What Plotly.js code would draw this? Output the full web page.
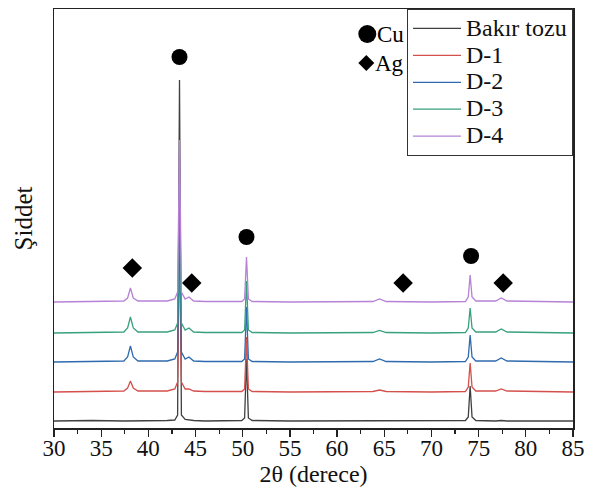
<!DOCTYPE html>
<html>
<head>
<meta charset="utf-8">
<script src="https://cdn.plot.ly/plotly-3.0.1.min.js"></script>
<style>html,body{margin:0;padding:0;background:#fff;}#chart{width:602px;height:493px;}</style>
</head>
<body>
<div id="chart"></div>
<script>
const twoTheta = [30, 34, 37.4, 37.8, 38.1, 38.4, 38.9, 42, 42.8, 43.1, 43.3, 43.5, 43.9, 44.3, 44.8, 46, 49.9, 50.2, 50.4, 50.6, 51.0, 55, 60, 63.8, 64.5, 65.2, 70, 73.6, 73.9, 74.1, 74.3, 74.7, 76.8, 77.4, 78.0, 82, 85];
const seriesNames = ["Bakır tozu", "D-1", "D-2", "D-3", "D-4"];
const seriesOffsets = [7, 36, 66, 95, 126];
const bakirTozu = [0, 0.5, 0, 0, 0.5, 0, 0, 0.5, 1, 6, 341, 6, 1.5, 1, 0.5, 0, 0.5, 3, 62, 3, 0.5, 0, 0, 0, 0.5, 0, 0, 0.5, 4, 35, 4, 0.5, 0, 0.5, 0, 0, 0];
const d1 = [0, 0.5, 1, 4, 11, 4, 1, 1, 3, 10, 150, 10, 3, 3, 1, 0.5, 0.5, 3, 55, 3, 0.5, 0, 0, 0.5, 2, 0.5, 0, 0.5, 5, 29, 5, 1, 1, 3, 1, 0.5, 0];
const d2 = [0, 0.5, 1, 5, 16, 5, 1, 1, 3, 10, 146, 10, 3, 5, 1, 0.5, 0.5, 3, 55, 3, 0.5, 0, 0, 0.5, 3, 0.5, 0, 0.5, 5, 27, 5, 1, 1, 4, 1, 0.5, 0];
const d3 = [0, 0.5, 1, 5, 16, 5, 1, 1, 3, 10, 150, 10, 3, 5, 1, 0.5, 0.5, 3, 52, 3, 0.5, 0, 0, 0.5, 2.5, 0.5, 0, 0.5, 5, 25, 5, 1, 1, 4, 1, 0.5, 0];
const d4 = [0, 0.5, 1, 4, 14, 4, 1, 1, 3, 10, 162, 10, 3, 5, 1, 0.5, 0.5, 3, 45, 3, 0.5, 0, 0, 0.5, 3, 0.5, 0, 0.5, 5, 27, 5, 1, 1, 4, 1, 0.5, 0];
const seriesColors = ["#404040", "#d4504c", "#2f6aae", "#37a07f", "#b582d6"];

const cuPeaksX = [43.3, 50.4, 74.2];
const cuMarkY = [371, 191, 172];
const agPeaksX = [38.3, 44.6, 67.0, 77.6];
const agMarkY = [160, 145, 145, 145];

const keyLabels = ["Cu", "Ag"];

const tickVals = [30, 35, 40, 45, 50, 55, 60, 65, 70, 75, 80, 85];

const allSeries = [bakirTozu, d1, d2, d3, d4];
const font = "Liberation Serif, Times New Roman, serif";

const traces = allSeries.map((vals, i) => ({
  x: twoTheta,
  y: vals.map(v => v + seriesOffsets[i]),
  type: "scatter",
  mode: "lines",
  name: '<span style="font-size:24px">' + seriesNames[i] + '</span>',
  line: {color: seriesColors[i], width: 1.3},
  hoverinfo: "skip"
}));

traces.push({
  x: cuPeaksX, y: cuMarkY, type: "scatter", mode: "markers",
  marker: {symbol: "circle", size: 16, color: "#000"}, showlegend: false, hoverinfo: "skip"
});
traces.push({
  x: agPeaksX, y: agMarkY, type: "scatter", mode: "markers",
  marker: {symbol: "diamond", size: 15, color: "#000"}, showlegend: false, hoverinfo: "skip"
});

const layout = {
  width: 602, height: 493,
  margin: {l: 54, r: 29, t: 9, b: 65},
  paper_bgcolor: "#fff", plot_bgcolor: "#fff",
  font: {family: font, color: "#111", size: 23},
  showlegend: true,
  legend: {
    x: 1, y: 1, xanchor: "right", yanchor: "top",
    bgcolor: "#fff", bordercolor: "#333", borderwidth: 1,
    font: {family: font, size: 18.4, color: "#111"},
    itemwidth: 48,
    tracegroupgap: 0
  },
  xaxis: {
    range: [30, 85],
    tickmode: "array", tickvals: tickVals,
    ticks: "outside", ticklen: 7, tickwidth: 1.3, tickcolor: "#222",
    minor: {dtick: 2.5, ticks: "outside", ticklen: 4, tickwidth: 1.1, tickcolor: "#222"},
    ticklabelstandoff: -8,
    showgrid: false, zeroline: false,
    showline: true, linecolor: "#222", linewidth: 1.5, mirror: true,
    tickfont: {family: font, size: 23, color: "#111"},
    title: {text: "2θ (derece)", font: {family: font, size: 24, color: "#111"}, standoff: 4}
  },
  yaxis: {
    range: [0, 419],
    showticklabels: false, ticks: "",
    showgrid: false, zeroline: false,
    showline: true, linecolor: "#222", linewidth: 1.5, mirror: true,
    title: {text: "Şiddet", font: {family: font, size: 25, color: "#111"}, standoff: 13}
  },
  shapes: [
    {type: "circle", xref: "x", yref: "y", xsizemode: "pixel", ysizemode: "pixel",
     xanchor: 63.2, yanchor: 394, x0: -9, x1: 9, y0: -9, y1: 9,
     fillcolor: "#000", line: {width: 0}},
    {type: "path", xref: "x", yref: "y", xsizemode: "pixel", ysizemode: "pixel",
     xanchor: 63.1, yanchor: 365, path: "M0,-8 L8,0 L0,8 L-8,0 Z",
     fillcolor: "#000", line: {width: 0}}
  ],
  annotations: [
    {x: 64.3, y: 394, xref: "x", yref: "y", xanchor: "left", yanchor: "middle", showarrow: false,
     text: keyLabels[0], font: {family: font, size: 23, color: "#000"}, xshift: -3},
    {x: 64.1, y: 365, xref: "x", yref: "y", xanchor: "left", yanchor: "middle", showarrow: false,
     text: keyLabels[1], font: {family: font, size: 23, color: "#000"}, xshift: -3}
  ]
};

Plotly.newPlot("chart", traces, layout, {displayModeBar: false, staticPlot: true});
</script>
</body>
</html>
